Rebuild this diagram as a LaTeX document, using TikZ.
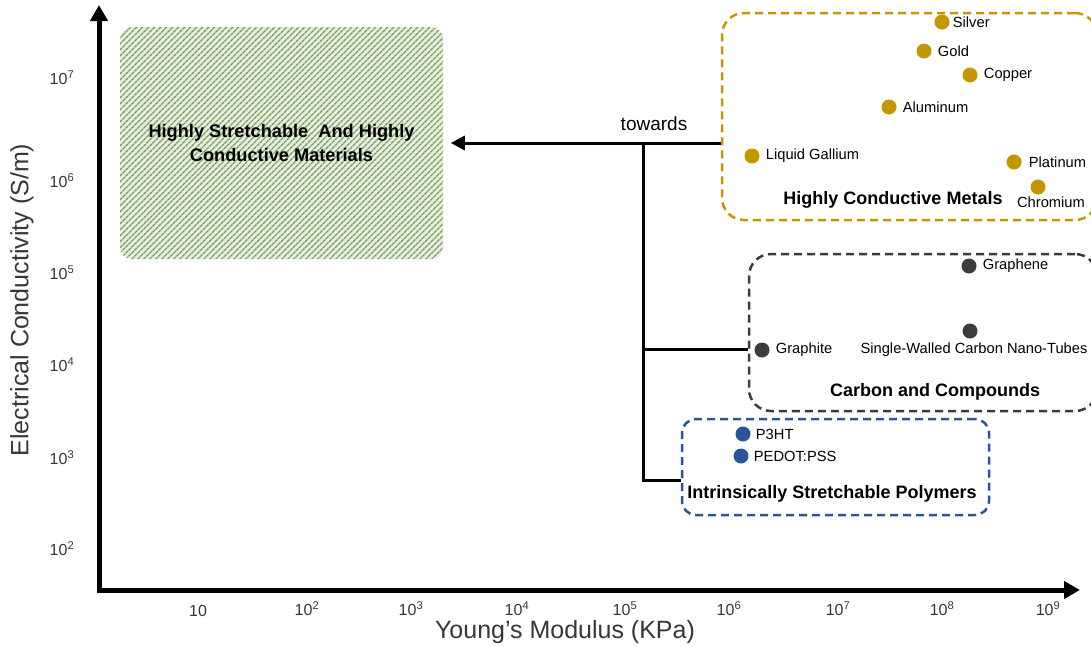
\documentclass[tikz,border=0pt]{standalone}
\usepackage{fontspec}
\setmainfont{Liberation Sans}
\usetikzlibrary{arrows.meta,patterns.meta}
\definecolor{gold}{RGB}{196,150,0}
\definecolor{dgray}{RGB}{60,60,60}
\definecolor{pblue}{RGB}{45,84,150}
\definecolor{hatchbg}{RGB}{232,238,225}
\definecolor{hatchln}{RGB}{120,160,90}
\definecolor{axtxt}{RGB}{55,55,55}
\tikzset{
  dot/.style={circle, fill=#1, inner sep=0pt, minimum size=15pt},
  lbl/.style={font=\fontsize{14.7}{16}\selectfont, anchor=west, inner sep=0pt},
  grp/.style={draw=#1, line width=2.5pt, rounded corners=22pt, dash pattern=on 8pt off 5pt, inner sep=0pt},
  grptitle/.style={font=\bfseries\fontsize{18}{20}\selectfont, inner sep=0pt},
  conn/.style={line width=3pt},
  axisline/.style={line width=5pt, {Triangle[length=16pt,width=17pt]}-{Triangle[length=16pt,width=17pt]}},
  tick/.style={font=\fontsize{16}{18}\selectfont, text=axtxt, inner sep=0pt},
  axtitle/.style={font=\fontsize{25}{28}\selectfont, text=axtxt, inner sep=0pt}
}
\begin{document}
\begin{tikzpicture}[x=1pt,y=-1pt]
\useasboundingbox (0,0) rectangle (1091,646);
\clip (0,0) rectangle (1091,646);

% target box
\node[minimum width=323pt, minimum height=232pt, rounded corners=12pt,
  preaction={fill=hatchbg}, pattern={Lines[angle=45,distance=4pt,line width=1.5pt]}, pattern color=hatchln,
  align=center, font=\bfseries\fontsize{18.2}{24}\selectfont] (goal) at (281.5,143)
  {Highly Stretchable~ And Highly\\Conductive Materials};

% axes
\coordinate (O) at (99,590);
\coordinate (ytop) at (99,5);
\coordinate (xend) at (1080,590);
\draw[axisline] (ytop) -- (O) -- (xend);

% y ticks
\node[tick] (y7) at (62,78) {10\textsuperscript{7}};
\node[tick] (y6) at (62,181) {10\textsuperscript{6}};
\node[tick] (y5) at (62,273) {10\textsuperscript{5}};
\node[tick] (y4) at (62,365) {10\textsuperscript{4}};
\node[tick] (y3) at (62,458) {10\textsuperscript{3}};
\node[tick] (y2) at (62,549) {10\textsuperscript{2}};
% x ticks
\node[tick] (x1) at (198,611) {10};
\node[tick] (x2) at (307,609) {10\textsuperscript{2}};
\node[tick] (x3) at (411,609) {10\textsuperscript{3}};
\node[tick] (x4) at (517,609) {10\textsuperscript{4}};
\node[tick] (x5) at (625,609) {10\textsuperscript{5}};
\node[tick] (x6) at (729,609) {10\textsuperscript{6}};
\node[tick] (x7) at (838,609) {10\textsuperscript{7}};
\node[tick] (x8) at (942,609) {10\textsuperscript{8}};
\node[tick] (x9) at (1048,609) {10\textsuperscript{9}};

\node[axtitle] (xt) at (565,632) {Young’s Modulus (KPa)};
\node[axtitle, rotate=90] (yt) at (22,300) {Electrical Conductivity (S/m)};

% group boxes
\node[grp=gold, minimum width=375pt, minimum height=207pt] (metals) at (909.5,116.5) {};
\node[grp=dgray, minimum width=348pt, minimum height=157pt] (carbon) at (923,332.5) {};
\node[grp=pblue, minimum width=307pt, minimum height=96pt, rounded corners=14pt] (poly) at (835.5,467) {};

% metals
\node[dot=gold] (ag) at (942,22) {};
\node[lbl] (agl) at ([xshift=3pt]ag.east) {Silver};
\node[dot=gold] (au) at (924,51) {};
\node[lbl] (aul) at ([xshift=6pt]au.east) {Gold};
\node[dot=gold] (cu) at (970,75) {};
\node[lbl] (cul) at ([xshift=6pt]cu.east) {Copper};
\node[dot=gold] (al) at (889,107) {};
\node[lbl] (all) at ([xshift=6pt]al.east) {Aluminum};
\node[dot=gold] (ga) at (752,156) {};
\node[lbl] (gal) at ([xshift=6pt]ga.east) {Liquid Gallium};
\node[dot=gold] (pt) at (1014,162) {};
\node[lbl] (ptl) at ([xshift=7pt]pt.east) {Platinum};
\node[dot=gold] (cr) at (1038,187) {};
\node[lbl, anchor=center] (crl) at (1051,202) {Chromium};
\node[grptitle] (mt) at (893,200) {Highly Conductive Metals};

% carbon
\node[dot=dgray] (gr) at (969,266) {};
\node[lbl] (grl) at ([xshift=6pt]gr.east) {Graphene};
\node[dot=dgray] (cnt) at (970,331) {};
\node[lbl, anchor=center] (cntl) at (974,350) {Single-Walled Carbon Nano-Tubes};
\node[dot=dgray] (gt) at (762,350) {};
\node[lbl] (gtl) at ([xshift=6pt]gt.east) {Graphite};
\node[grptitle] (ct) at (935,392) {Carbon and Compounds};

% polymers
\node[dot=pblue] (p3) at (743,434) {};
\node[lbl] (p3l) at ([xshift=5pt]p3.east) {P3HT};
\node[dot=pblue] (pe) at (741,456) {};
\node[lbl] (pel) at ([xshift=5pt]pe.east) {PEDOT:PSS};
\node[grptitle] (pt2) at (832,494) {Intrinsically Stretchable Polymers};

% connectors
\coordinate (j1) at (643,143);
\coordinate (j2) at (643,349);
\coordinate (j3) at (643,480);
\draw[conn, shorten >=7pt, -{Triangle[length=14pt,width=14pt]}] (j1 -| metals.west) -- (goal.east);
\draw[conn] (j1) -- (j3) -- (j3 -| poly.west);
\draw[conn] (j2) -- (j2 -| carbon.west);
\node[font=\fontsize{19}{21}\selectfont, inner sep=0pt] (tw) at (654,124) {towards};
\end{tikzpicture}
\end{document}
